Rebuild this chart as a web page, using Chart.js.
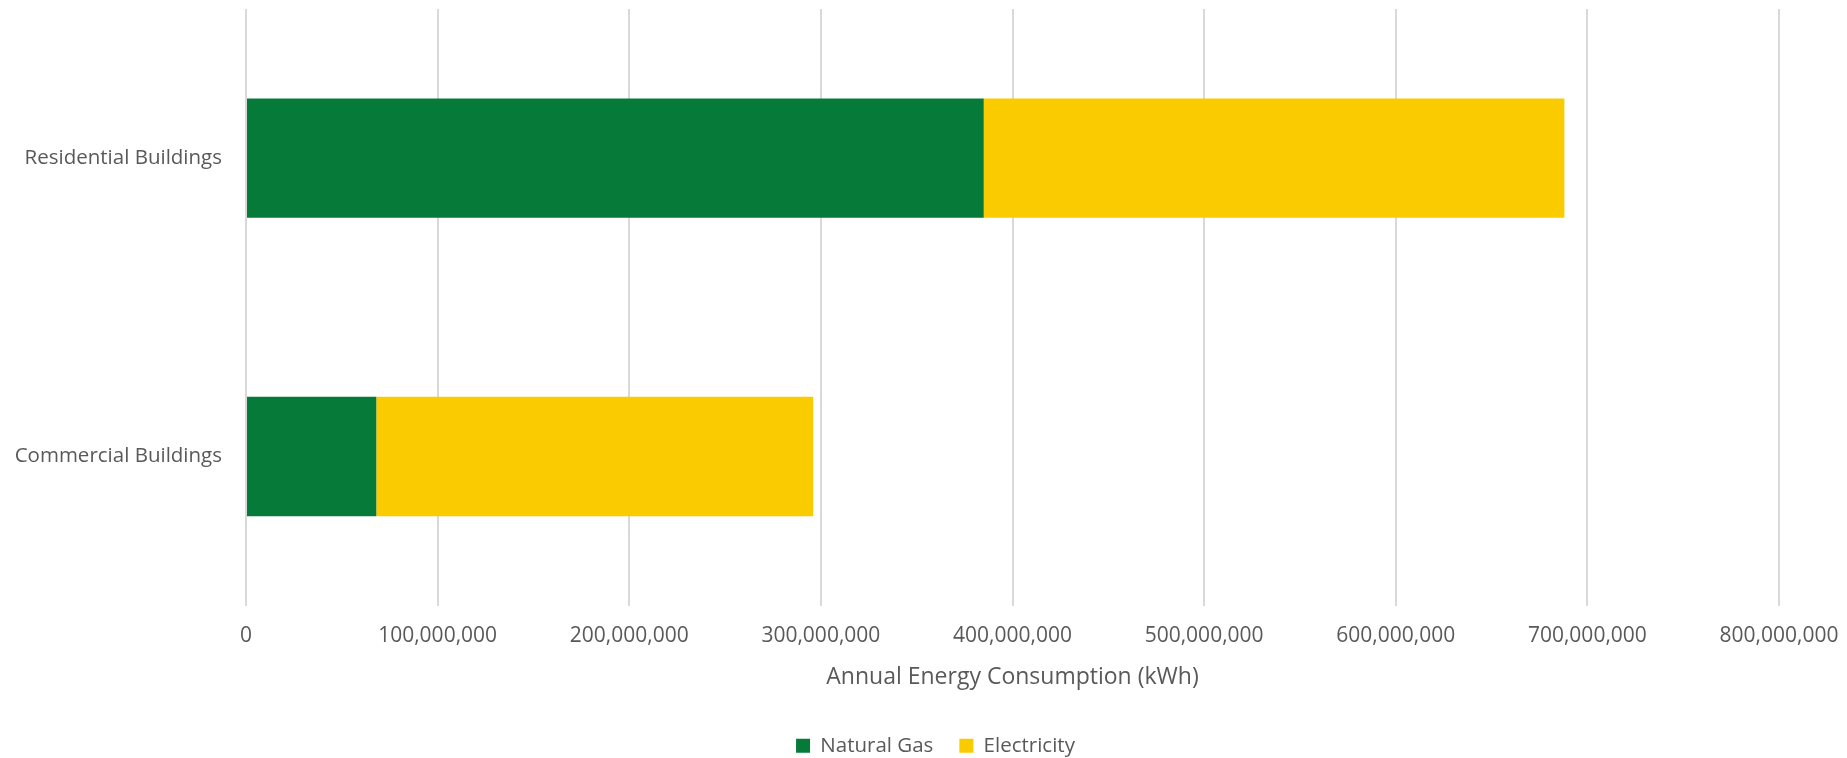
<!DOCTYPE html>
<html>
<head>
<meta charset="utf-8">
<script src="https://cdn.jsdelivr.net/npm/chart.js@4.4.1/dist/chart.umd.min.js"></script>
<style>
html,body{margin:0;padding:0;background:#fff;}
#wrap{width:1847px;height:758px;position:relative;}
</style>
</head>
<body>
<div id="wrap"><canvas id="c" width="1847" height="758"></canvas></div>
<script>
const categories = ["Residential Buildings", "Commercial Buildings"];
const naturalGas = [385000000, 68000000];
const electricity = [303000000, 228000000];
const seriesNames = ["Natural Gas", "Electricity"];
const axisTitle = "Annual Energy Consumption (kWh)";
const xMin = 0, xMax = 800000000, xStep = 100000000;

const FONT = "'Open Sans', 'Liberation Sans', sans-serif";
const TEXT = "#595959";

const shiftLegend = {
  id: 'shiftLegend',
  afterLayout(chart) {
    const l = chart.legend;
    if (l) { l.left += 46; l.right += 46; }
  }
};

new Chart(document.getElementById('c'), {
  type: 'bar',
  data: {
    labels: categories,
    datasets: [
      { label: seriesNames[0], data: naturalGas, backgroundColor: '#067A38', borderWidth: 0 },
      { label: seriesNames[1], data: electricity, backgroundColor: '#FACC00', borderWidth: 0 }
    ]
  },
  plugins: [shiftLegend],
  options: {
    indexAxis: 'y',
    responsive: false,
    animation: false,
    devicePixelRatio: 1,
    layout: { padding: { top: 9, right: 68, left: 0, bottom: -8 } },
    datasets: { bar: { barPercentage: 0.4, categoryPercentage: 1.0 } },
    scales: {
      x: {
        stacked: true,
        min: xMin, max: xMax,
        ticks: {
          stepSize: xStep,
          color: TEXT,
          font: { family: FONT, size: 21 },
          padding: 18,
          callback: v => Number(v).toLocaleString('en-US')
        },
        grid: { color: '#D9D9D9', lineWidth: 2, drawTicks: false },
        border: { display: false },
        title: {
          display: true, text: axisTitle, color: TEXT,
          font: { family: FONT, size: 23 },
          padding: { top: -3, bottom: 18 }
        },
        afterFit: s => { s.paddingLeft = 0; s.paddingRight = 0; }
      },
      y: {
        stacked: true,
        ticks: { color: TEXT, font: { family: FONT, size: 20.5 }, padding: 24 },
        grid: { display: false, drawTicks: false },
        border: { display: false },
        afterFit: s => { s.width = 246; s.paddingTop = 0; s.paddingBottom = 0; }
      }
    },
    plugins: {
      legend: {
        position: 'bottom',
        labels: { color: TEXT, font: { family: FONT, size: 20.5 }, boxWidth: 14, boxHeight: 14, padding: 26 }
      },
      tooltip: { enabled: false }
    }
  }
});
</script>
</body>
</html>
